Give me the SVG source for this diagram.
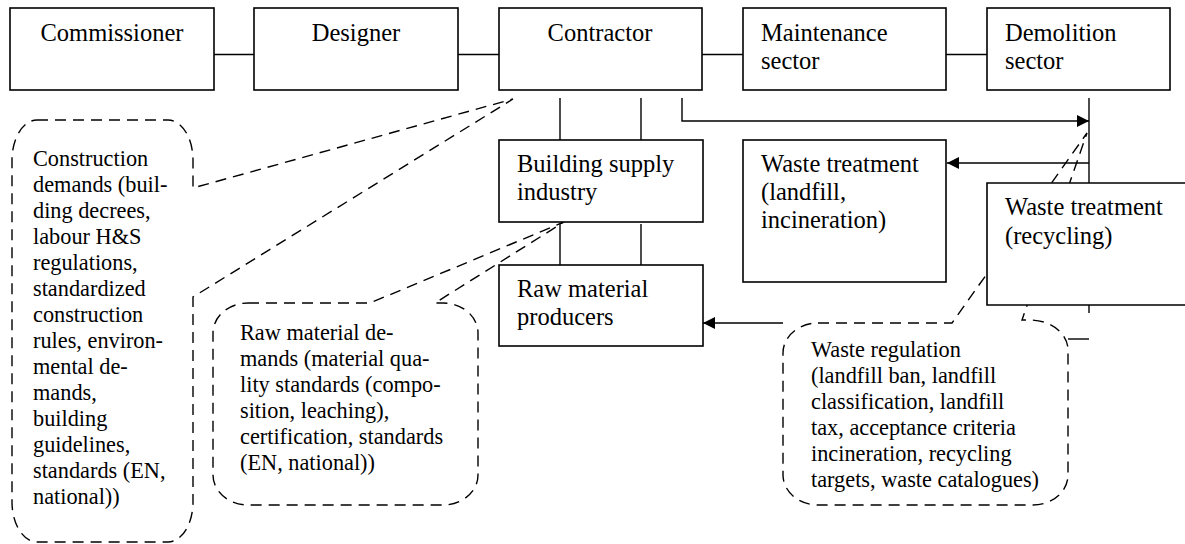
<svg xmlns="http://www.w3.org/2000/svg" width="1185" height="544" viewBox="0 0 1185 544" font-family="'Liberation Serif', 'DejaVu Serif', 'Times New Roman', serif">
<defs>
<style>
.box{fill:#fff;stroke:#000;stroke-width:1.6}
.t{font-family:'Liberation Serif','DejaVu Serif','Times New Roman',serif;font-size:24.5px;fill:#000}
.c{font-family:'Liberation Serif','DejaVu Serif','Times New Roman',serif;font-size:22.3px;fill:#000}
.ln{fill:none;stroke:#000;stroke-width:1.4}
.call{fill:none;stroke:#000;stroke-width:1.4;stroke-dasharray:11 7}
</style>
<marker id="arr" viewBox="0 0 12 12" refX="12" refY="6" markerWidth="12" markerHeight="12" markerUnits="userSpaceOnUse" orient="auto">
<path d="M0,0 L12,6 L0,12 z" fill="#000"/>
</marker>
</defs>
<rect width="1185" height="544" fill="#fff"/>

<g id="callout-construction">
<path class="call" d="M37,120 H168 A25,40 0 0 1 193,160 V188 L513,99 L193,297 V502 A25,40 0 0 1 168,542 H37 A25,40 0 0 1 12,502 V160 A25,40 0 0 1 37,120 Z"/>
<text class="c" x="33" y="166">Construction</text>
<text class="c" x="33" y="192">demands (buil-</text>
<text class="c" x="33" y="218">ding decrees,</text>
<text class="c" x="33" y="244">labour H&amp;S</text>
<text class="c" x="33" y="270">regulations,</text>
<text class="c" x="33" y="296">standardized</text>
<text class="c" x="33" y="322">construction</text>
<text class="c" x="33" y="348">rules, environ-</text>
<text class="c" x="33" y="374">mental de-</text>
<text class="c" x="33" y="400">mands,</text>
<text class="c" x="33" y="426">building</text>
<text class="c" x="33" y="452">guidelines,</text>
<text class="c" x="33" y="478">standards (EN,</text>
<text class="c" x="33" y="504">national))</text>
</g>

<g id="callout-raw">
<path class="call" d="M248,303 H370 L564,222 L435,303 H443 A35,30 0 0 1 478,333 V475 A35,30 0 0 1 443,505 H248 A35,30 0 0 1 213,475 V333 A35,30 0 0 1 248,303 Z"/>
<text class="c" x="240" y="340">Raw material de-</text>
<text class="c" x="240" y="366">mands (material qua-</text>
<text class="c" x="240" y="392">lity standards (compo-</text>
<text class="c" x="240" y="418">sition, leaching),</text>
<text class="c" x="240" y="444">certification, standards</text>
<text class="c" x="240" y="470">(EN, national))</text>
</g>

<g id="callout-waste">
<path class="call" d="M818,323 H952 L1087,133 L1022,320 H1030 A38,30 0 0 1 1068,350 V475 A35,30 0 0 1 1033,505 H818 A35,30 0 0 1 783,475 V353 A35,30 0 0 1 818,323 Z"/>
<text class="c" x="811" y="357">Waste regulation</text>
<text class="c" x="811" y="383">(landfill ban, landfill</text>
<text class="c" x="811" y="409">classification, landfill</text>
<text class="c" x="811" y="435">tax, acceptance criteria</text>
<text class="c" x="811" y="461">incineration, recycling</text>
<text class="c" x="811" y="487">targets, waste catalogues)</text>
</g>

<g id="connectors">
<line class="ln" x1="214" y1="54.5" x2="254" y2="54.5"/>
<line class="ln" x1="458" y1="54.5" x2="499" y2="54.5"/>
<line class="ln" x1="702" y1="54.5" x2="743" y2="54.5"/>
<line class="ln" x1="946" y1="54.5" x2="987" y2="54.5"/>
<line class="ln" x1="560" y1="98" x2="560" y2="140"/>
<line class="ln" x1="641" y1="98" x2="641" y2="140"/>
<line class="ln" x1="560" y1="224" x2="560" y2="265"/>
<line class="ln" x1="641" y1="224" x2="641" y2="265"/>
<path class="ln" d="M682,98 V121 H1089" marker-end="url(#arr)"/>
<line class="ln" x1="1089" y1="98" x2="1089" y2="313"/>
<path class="ln" d="M1089,163 H947" marker-end="url(#arr)"/>
<path class="ln" d="M783,323 H703" marker-end="url(#arr)"/>
<line class="ln" x1="1068" y1="339" x2="1089" y2="339"/>
</g>

<g id="commissioner">
<rect class="box" x="10" y="8" width="204" height="82"/>
<text class="t" x="112" y="41" text-anchor="middle">Commissioner</text>
</g>
<g id="designer">
<rect class="box" x="254" y="8" width="204" height="82"/>
<text class="t" x="356" y="41" text-anchor="middle">Designer</text>
</g>
<g id="contractor">
<rect class="box" x="499" y="8" width="203" height="82"/>
<text class="t" x="600" y="41" text-anchor="middle">Contractor</text>
</g>
<g id="maintenance">
<rect class="box" x="743" y="8" width="203" height="82"/>
<text class="t" x="761" y="41">Maintenance</text>
<text class="t" x="761" y="69">sector</text>
</g>
<g id="demolition">
<rect class="box" x="987" y="8" width="183" height="82"/>
<text class="t" x="1005" y="41">Demolition</text>
<text class="t" x="1005" y="69">sector</text>
</g>
<g id="building-supply">
<rect class="box" x="499" y="140" width="204" height="82"/>
<text class="t" x="517" y="172">Building supply</text>
<text class="t" x="517" y="200">industry</text>
</g>
<g id="raw-material">
<rect class="box" x="499" y="265" width="204" height="81"/>
<text class="t" x="517" y="297">Raw material</text>
<text class="t" x="517" y="325">producers</text>
</g>
<g id="waste-landfill">
<rect class="box" x="743" y="140" width="203" height="142"/>
<text class="t" x="761" y="172">Waste treatment</text>
<text class="t" x="761" y="200">(landfill,</text>
<text class="t" x="761" y="228">incineration)</text>
</g>
<g id="waste-recycling">
<path class="box" d="M1186,183 H987 V305 H1186"/>
<text class="t" x="1005" y="215">Waste treatment</text>
<text class="t" x="1005" y="244">(recycling)</text>
</g>
</svg>
